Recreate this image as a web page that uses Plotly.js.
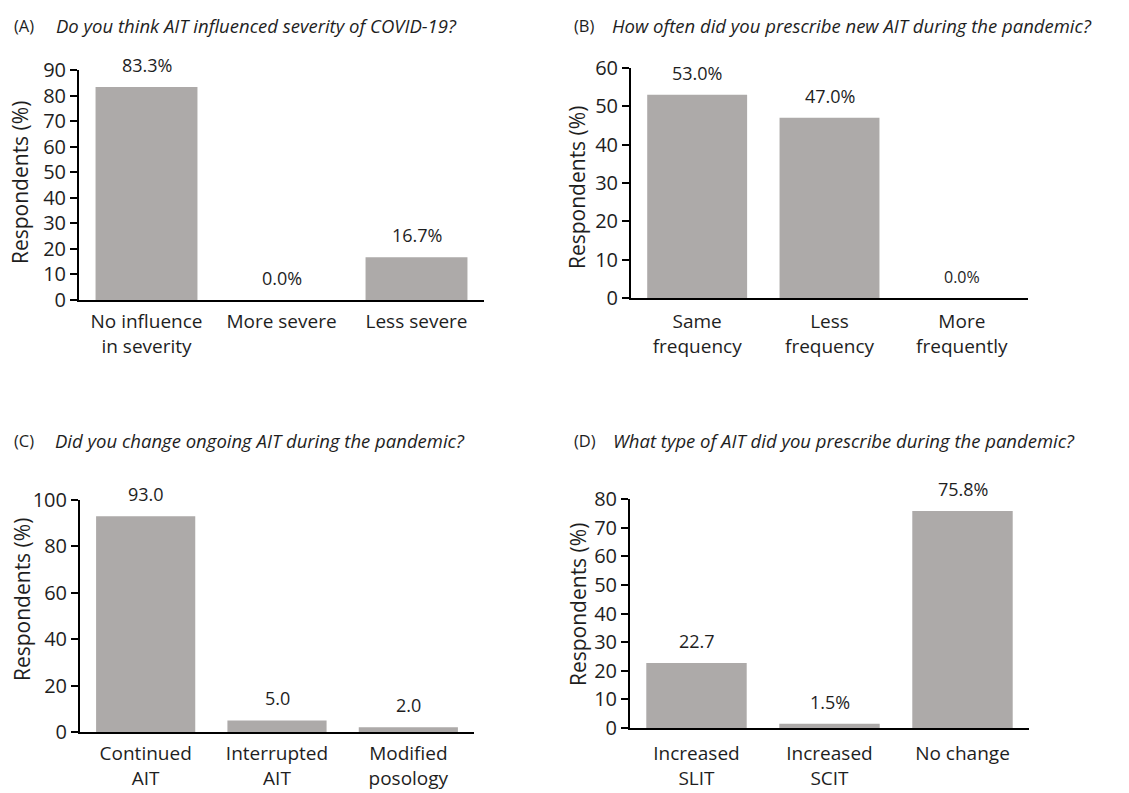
<!DOCTYPE html>
<html>
<head>
<meta charset="utf-8">
<script src="https://cdn.plot.ly/plotly-3.0.1.min.js"></script>
<style>html,body{margin:0;padding:0;background:#fff}#chart{width:1129px;height:793px}</style>
</head>
<body>
<div id="chart"></div>
<script>
// Panel A
const catsA = ["No influence<br>in severity", "More severe", "Less severe"];
const valsA = [83.3, 0.0, 16.7];
const labelsA = ["83.3%", "0.0%", "16.7%"];
// Panel B
const catsB = ["Same<br>frequency", "Less<br>frequency", "More<br>frequently"];
const valsB = [53.0, 47.0, 0.0];
const labelsB = ["53.0%", "47.0%", "0.0%"];
// Panel C
const catsC = ["Continued<br>AIT", "Interrupted<br>AIT", "Modified<br>posology"];
const valsC = [93.0, 5.0, 2.0];
const labelsC = ["93.0", "5.0", "2.0"];
// Panel D
const catsD = ["Increased<br>SLIT", "Increased<br>SCIT", "No change"];
const valsD = [22.7, 1.5, 75.8];
const labelsD = ["22.7", "1.5%", "75.8%"];

const panelTags = ["(A)", "(B)", "(C)", "(D)"];
const questions = [
  "Do you think AIT influenced severity of COVID-19?",
  "How often did you prescribe new AIT during the pandemic?",
  "Did you change ongoing AIT during the pandemic?",
  "What type of AIT did you prescribe during the pandemic?"
];
const yRanges = [[0, 90], [0, 60], [0, 100], [0, 80]];
const yDticks = [10, 10, 20, 10];
const yTitle = "Respondents (%)";

const FONT = "Open Sans, Noto Sans, sans-serif";
const TXT = "#1e1e1e";
const BAR = "#adaaa9";

const cats = [catsA, catsB, catsC, catsD];
const vals = [valsA, valsB, valsC, valsD];
const labs = [labelsA, labelsB, labelsC, labelsD];

const W = 1129, H = 793;
const domX = [[79/W, 484/W], [631/W, 1028/W], [80/W, 474/W], [630/W, 1029/W]];
const domY = [[1-300/H, 1-70/H], [1-298/H, 1-68/H], [1-732/H, 1-500/H], [1-728/H, 1-499/H]];
const titleY = [1-25/H, 1-25/H, 1-440/H, 1-440/H];
const tagX = [12/W, 572/W, 12/W, 572/W];
const qX = [54/W, 610/W, 53/W, 611/W];
const yTitleX = [20/W, 577/W, 22/W, 578/W];
const yTitleY = [1-183/H, 1-188/H, 1-600/H, 1-605/H];
const catStandoff = [3, 5, 3, 7];
const lblSize = [[18, 18, 18], [18, 18, 16], [18, 18, 18], [18, 18, 18]];

const data = [];
const layout = {
  width: W, height: H,
  margin: {l: 0, r: 0, t: 0, b: 0},
  paper_bgcolor: "#fff", plot_bgcolor: "#fff",
  showlegend: false,
  font: {family: FONT, size: 19, color: TXT},
  annotations: [],
  bargap: 0.245
};

for (let i = 0; i < 4; i++) {
  const sfx = i === 0 ? "" : String(i + 1);
  data.push({
    type: "bar",
    x: cats[i], y: vals[i],
    xaxis: "x" + sfx, yaxis: "y" + sfx,
    marker: {color: BAR, line: {width: 0}},
    hoverinfo: "skip"
  });
  layout["xaxis" + sfx] = {
    domain: domX[i], anchor: "y" + sfx,
    showline: true, linecolor: "#000", linewidth: 2,
    ticks: "", showgrid: false, zeroline: false,
    ticklabelstandoff: catStandoff[i],
    tickfont: {size: 19, color: TXT, family: FONT},
    automargin: false, fixedrange: true
  };
  layout["yaxis" + sfx] = {
    domain: domY[i], anchor: "x" + sfx,
    range: yRanges[i], dtick: yDticks[i], tick0: 0,
    showline: true, linecolor: "#000", linewidth: 2,
    ticks: "outside", ticklen: 7, tickwidth: 2, tickcolor: "#000",
    showgrid: false, zeroline: false,
    tickfont: {size: 20, color: TXT, family: FONT},
    automargin: false, fixedrange: true
  };
  for (let j = 0; j < vals[i].length; j++) {
    layout.annotations.push({
      xref: "x" + sfx, yref: "y" + sfx,
      x: cats[i][j], y: vals[i][j],
      text: labs[i][j], showarrow: false,
      yanchor: "bottom", yshift: 8,
      font: {size: lblSize[i][j], color: TXT, family: FONT}
    });
  }
  // y-axis title
  layout.annotations.push({
    xref: "paper", yref: "paper", x: yTitleX[i], y: yTitleY[i],
    xanchor: "center", yanchor: "middle", showarrow: false, textangle: -90,
    text: yTitle, font: {size: 21, color: TXT, family: FONT}
  });
  layout.annotations.push({
    xref: "paper", yref: "paper", x: tagX[i], y: titleY[i],
    xanchor: "left", yanchor: "middle", showarrow: false,
    text: panelTags[i], font: {size: 16.5, color: TXT, family: FONT}
  });
  layout.annotations.push({
    xref: "paper", yref: "paper", x: qX[i], y: titleY[i],
    xanchor: "left", yanchor: "middle", showarrow: false,
    text: "<i>" + questions[i] + "</i>", font: {size: 18.5, color: TXT, family: FONT}
  });
}

Plotly.newPlot("chart", data, layout, {staticPlot: true, displayModeBar: false});
</script>
</body>
</html>
